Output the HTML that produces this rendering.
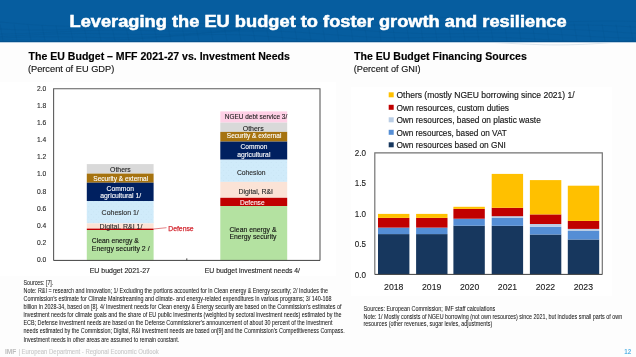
<!DOCTYPE html>
<html><head><meta charset="utf-8"><style>
html,body{margin:0;padding:0;background:#fff;}
svg{display:block;will-change:transform;font-family:"Liberation Sans",sans-serif;}
</style></head><body>
<svg width="636" height="357" viewBox="0 0 636 357">
<rect x="0.00" y="0.00" width="636.00" height="357.00" fill="#fdfdfd"/>
<rect x="0.00" y="82.00" width="336.00" height="194.00" fill="#ffffff"/>
<rect x="351.00" y="87.00" width="261.00" height="209.00" fill="#ffffff"/>
<rect x="0.00" y="0.00" width="636.00" height="42.00" fill="#065d9f"/>
<path d="M0,22.0 L8,22.7 L16,23.4 L24,24.1 L32,24.7 L40,25.2 L48,25.6 L56,25.9 L64,26.2 L72,26.3 L80,26.3 L88,26.2 L96,26.0 L104,25.8 L112,25.5 L120,25.1 L128,24.8 L136,24.4 L144,24.1 L152,23.9 L160,23.6 L168,23.5 L176,23.4 L184,23.3 L192,23.4 L200,23.5 L208,23.6 L216,23.8 L224,24.0 L232,24.2 L240,24.4 L248,24.6 L256,24.7 L264,24.7 L272,24.7 L280,24.6 L288,24.4 L296,24.1 L304,23.7 L312,23.2 L320,22.6 L328,22.0 L336,21.3 L344,20.6 L352,20.0 L360,19.3 L368,18.7 L376,18.1 L384,17.6 L392,17.2 L400,17.0 L408,16.8 L416,16.8 L424,16.8 L432,17.0 L440,17.3 L448,17.6 L456,18.0 L464,18.5 L472,19.0 L480,19.5 L488,20.0 L496,20.4 L504,20.8 L512,21.2 L520,21.5 L528,21.7 L536,21.8 L544,21.8 L552,21.8 L560,21.8 L568,21.6 L576,21.5 L584,21.4 L592,21.2 L600,21.1 L608,21.1 L616,21.1 L624,21.2 L632,21.3 L640,21.5 M0,29.0 L8,29.4 L16,29.8 L24,30.0 L32,30.1 L40,30.1 L48,30.1 L56,29.9 L64,29.6 L72,29.3 L80,29.0 L88,28.6 L96,28.2 L104,27.9 L112,27.5 L120,27.3 L128,27.0 L136,26.9 L144,26.8 L152,26.8 L160,26.8 L168,26.9 L176,27.1 L184,27.3 L192,27.4 L200,27.6 L208,27.8 L216,27.9 L224,28.0 L232,28.0 L240,27.9 L248,27.7 L256,27.4 L264,27.0 L272,26.6 L280,26.1 L288,25.5 L296,24.8 L304,24.2 L312,23.5 L320,22.8 L328,22.2 L336,21.6 L344,21.2 L352,20.8 L360,20.5 L368,20.3 L376,20.2 L384,20.3 L392,20.5 L400,20.7 L408,21.1 L416,21.5 L424,22.0 L432,22.5 L440,23.0 L448,23.6 L456,24.1 L464,24.5 L472,24.9 L480,25.2 L488,25.5 L496,25.7 L504,25.8 L512,25.8 L520,25.8 L528,25.7 L536,25.5 L544,25.4 L552,25.3 L560,25.2 L568,25.1 L576,25.1 L584,25.1 L592,25.2 L600,25.4 L608,25.6 L616,26.0 L624,26.4 L632,26.9 L640,27.4 M0,34.0 L8,33.9 L16,33.7 L24,33.5 L32,33.2 L40,32.8 L48,32.4 L56,32.0 L64,31.6 L72,31.2 L80,30.9 L88,30.6 L96,30.4 L104,30.2 L112,30.2 L120,30.2 L128,30.2 L136,30.3 L144,30.5 L152,30.7 L160,30.8 L168,31.0 L176,31.1 L184,31.2 L192,31.2 L200,31.1 L208,31.0 L216,30.7 L224,30.4 L232,30.0 L240,29.5 L248,28.9 L256,28.3 L264,27.7 L272,27.0 L280,26.4 L288,25.8 L296,25.2 L304,24.7 L312,24.3 L320,24.0 L328,23.8 L336,23.8 L344,23.8 L352,24.0 L360,24.2 L368,24.6 L376,25.0 L384,25.5 L392,26.1 L400,26.6 L408,27.2 L416,27.7 L424,28.2 L432,28.6 L440,29.0 L448,29.3 L456,29.5 L464,29.7 L472,29.7 L480,29.7 L488,29.7 L496,29.6 L504,29.4 L512,29.3 L520,29.2 L528,29.1 L536,29.0 L544,29.0 L552,29.1 L560,29.2 L568,29.4 L576,29.7 L584,30.1 L592,30.5 L600,31.0 L608,31.5 L616,32.1 L624,32.6 L632,33.1 L640,33.5 M0,36.6 L8,36.2 L16,35.7 L24,35.3 L32,34.9 L40,34.5 L48,34.1 L56,33.9 L64,33.7 L72,33.6 L80,33.5 L88,33.5 L96,33.6 L104,33.7 L112,33.9 L120,34.0 L128,34.2 L136,34.3 L144,34.4 L152,34.4 L160,34.4 L168,34.3 L176,34.1 L184,33.8 L192,33.4 L200,32.9 L208,32.4 L216,31.8 L224,31.2 L232,30.6 L240,30.0 L248,29.4 L256,28.8 L264,28.3 L272,27.9 L280,27.6 L288,27.4 L296,27.3 L304,27.3 L312,27.5 L320,27.8 L328,28.1 L336,28.5 L344,29.1 L352,29.6 L360,30.2 L368,30.8 L376,31.4 L384,31.9 L392,32.4 L400,32.8 L408,33.1 L416,33.4 L424,33.6 L432,33.7 L440,33.7 L448,33.7 L456,33.6 L464,33.5 L472,33.3 L480,33.2 L488,33.1 L496,33.0 L504,33.0 L512,33.0 L520,33.1 L528,33.2 L536,33.5 L544,33.8 L552,34.2 L560,34.6 L568,35.1 L576,35.6 L584,36.1 L592,36.6 L600,37.0 L608,37.4 L616,37.7 L624,37.9 L632,38.0 L640,38.0 M0,38.1 L8,37.7 L16,37.4 L24,37.1 L32,36.9 L40,36.8 L48,36.8 L56,36.8 L64,36.9 L72,37.0 L80,37.2 L88,37.3 L96,37.5 L104,37.6 L112,37.6 L120,37.6 L128,37.5 L136,37.4 L144,37.1 L152,36.8 L160,36.4 L168,35.9 L176,35.4 L184,34.8 L192,34.2 L200,33.6 L208,33.0 L216,32.4 L224,31.9 L232,31.5 L240,31.2 L248,31.0 L256,30.9 L264,30.9 L272,31.1 L280,31.3 L288,31.7 L296,32.1 L304,32.6 L312,33.2 L320,33.8 L328,34.4 L336,35.0 L344,35.6 L352,36.1 L360,36.6 L368,37.0 L376,37.3 L384,37.5 L392,37.6 L400,37.7 L408,37.7 L416,37.6 L424,37.5 L432,37.4 L440,37.2 L448,37.1 L456,37.0 L464,36.9 L472,36.9 L480,36.9 L488,37.0 L496,37.2 L504,37.5 L512,37.8 L520,38.2 L528,38.7 L536,39.1 L544,39.6 L552,40.0 L560,40.5 L568,40.8 L576,41.1 L584,41.4 L592,41.5 L600,41.5 L608,41.4 L616,41.2 L624,40.8 L632,40.4 L640,39.9 M0,40.2 L8,40.1 L16,40.1 L24,40.1 L32,40.2 L40,40.4 L48,40.5 L56,40.6 L64,40.8 L72,40.8 L80,40.8 L88,40.8 L96,40.7 L104,40.5 L112,40.2 L120,39.8 L128,39.4 L136,38.9 L144,38.3 L152,37.8 L160,37.2 L168,36.6 L176,36.1 L184,35.6 L192,35.2 L200,34.9 L208,34.6 L216,34.5 L224,34.5 L232,34.7 L240,34.9 L248,35.3 L256,35.7 L264,36.2 L272,36.8 L280,37.4 L288,38.0 L296,38.7 L304,39.3 L312,39.8 L320,40.4 L328,40.8 L336,41.1 L344,41.4 L352,41.6 L360,41.7 L368,41.7 L376,41.6 L384,41.5 L392,41.4 L400,41.2 L408,41.1 L416,40.9 L424,40.8 L432,40.8 L440,40.8 L448,40.8 L456,41.0 L464,41.2 L472,41.5 L480,41.8 L488,42.2 L496,42.6 L504,43.0 L512,43.5 L520,43.9 L528,44.2 L536,44.5 L544,44.8 L552,44.9 L560,44.9 L568,44.8 L576,44.6 L584,44.3 L592,43.9 L600,43.4 L608,42.8 L616,42.2 L624,41.5 L632,40.8 L640,40.1 M0 24.0 L3 41 M14 24.4 L17 41 M28 24.9 L31 41 M42 25.3 L45 41 M56 25.7 L59 41 M70 26.0 L73 41 M84 26.3 L87 41 M98 26.6 L101 41 M112 26.8 L115 41 M126 26.9 L129 41 M140 27.0 L143 41 M154 27.0 L157 41 M168 26.9 L171 41 M182 26.8 L185 41 M196 26.6 L199 41 M210 26.4 L213 41 M224 26.1 L227 41 M238 25.8 L241 41 M252 25.4 L255 41 M266 25.0 L269 41 M280 24.6 L283 41 M294 24.1 L297 41 M308 23.7 L311 41 M322 23.3 L325 41 M336 22.8 L339 41 M350 22.5 L353 41 M364 22.1 L367 41 M378 21.8 L381 41 M392 21.5 L395 41 M406 21.3 L409 41 M420 21.1 L423 41 M434 21.0 L437 41 M448 21.0 L451 41 M462 21.0 L465 41 M476 21.1 L479 41 M490 21.3 L493 41 M504 21.5 L507 41 M518 21.8 L521 41 M532 22.1 L535 41 M546 22.5 L549 41 M560 22.9 L563 41 M574 23.3 L577 41 M588 23.7 L591 41 M602 24.2 L605 41 M616 24.6 L619 41 M630 25.0 L633 41" fill="none" stroke="#02447d" stroke-opacity="0.22" stroke-width="0.6"/>
<rect x="0.00" y="41.00" width="636.00" height="1.00" fill="#04528e"/>
<rect x="0.00" y="42.00" width="636.00" height="1.00" fill="#b9d0e3"/>
<text x="69.50" y="26.70" font-size="16.2" fill="#fff" font-weight="bold" textLength="497.1" lengthAdjust="spacingAndGlyphs" stroke="#fff" stroke-width="0.5">Leveraging the EU budget to foster growth and resilience</text>
<text x="28.60" y="59.60" font-size="10.3" fill="#000" font-weight="bold" textLength="261.3" lengthAdjust="spacingAndGlyphs" stroke="#000" stroke-width="0.15">The EU Budget – MFF 2021-27 vs. Investment Needs</text>
<text x="27.90" y="72.00" font-size="8.8" fill="#111" textLength="86.4" lengthAdjust="spacingAndGlyphs" stroke="#111" stroke-width="0.12">(Percent of EU GDP)</text>
<text x="354.10" y="59.50" font-size="10.3" fill="#000" font-weight="bold" textLength="172.7" lengthAdjust="spacingAndGlyphs" stroke="#000" stroke-width="0.15">The EU Budget Financing Sources</text>
<text x="353.80" y="72.00" font-size="8.8" fill="#111" textLength="66.7" lengthAdjust="spacingAndGlyphs" stroke="#111" stroke-width="0.12">(Percent of GNI)</text>
<defs><pattern id="dots" width="5" height="5.2" patternUnits="userSpaceOnUse"><circle cx="1.2" cy="1.3" r="0.45" fill="#a9c3d6" fill-opacity="0.3"/><circle cx="3.7" cy="3.9" r="0.45" fill="#a9c3d6" fill-opacity="0.3"/></pattern></defs>
<rect x="86.80" y="164.10" width="66.80" height="9.50" fill="#d9d9d9"/>
<rect x="86.80" y="173.60" width="66.80" height="9.10" fill="#a6730f"/>
<rect x="86.80" y="182.70" width="66.80" height="18.30" fill="#002060"/>
<rect x="86.80" y="201.00" width="66.80" height="22.40" fill="#d0ebfa"/>
<rect x="86.80" y="223.40" width="66.80" height="5.20" fill="#fbe3d6"/>
<rect x="86.80" y="228.60" width="66.80" height="1.40" fill="#c00000"/>
<rect x="86.80" y="230.00" width="66.80" height="30.40" fill="#b4e2a1"/>
<rect x="220.30" y="111.40" width="66.90" height="11.20" fill="#ffd0e6"/>
<rect x="220.30" y="122.60" width="66.90" height="9.30" fill="#d9d9d9"/>
<rect x="220.30" y="131.90" width="66.90" height="9.70" fill="#a6730f"/>
<rect x="220.30" y="141.60" width="66.90" height="18.10" fill="#002060"/>
<rect x="220.30" y="159.70" width="66.90" height="22.20" fill="#d0ebfa"/>
<rect x="220.30" y="181.90" width="66.90" height="15.90" fill="#fbe3d6"/>
<rect x="220.30" y="197.80" width="66.90" height="8.20" fill="#c00000"/>
<rect x="220.30" y="206.00" width="66.90" height="54.40" fill="#b4e2a1"/>
<rect x="86.80" y="201.00" width="66.80" height="22.40" fill="url(#dots)"/>
<rect x="220.30" y="159.70" width="66.90" height="22.20" fill="url(#dots)"/>
<path d="M53.6 260.4 V88.7 H320.0 V260.4" fill="none" stroke="#5c5c5c" stroke-width="1.1"/>
<path d="M53.6 260.4 H320.0" fill="none" stroke="#404040" stroke-width="1"/>
<path d="M186.8 260.4 V258.4" fill="none" stroke="#404040" stroke-width="1"/>
<text x="46.20" y="90.60" font-size="6.7" fill="#2b2b2b" text-anchor="end" textLength="9.3" lengthAdjust="spacingAndGlyphs" stroke="#2b2b2b" stroke-width="0.12">2.0</text>
<text x="46.20" y="107.77" font-size="6.7" fill="#2b2b2b" text-anchor="end" textLength="9.3" lengthAdjust="spacingAndGlyphs" stroke="#2b2b2b" stroke-width="0.12">1.8</text>
<text x="46.20" y="124.94" font-size="6.7" fill="#2b2b2b" text-anchor="end" textLength="9.3" lengthAdjust="spacingAndGlyphs" stroke="#2b2b2b" stroke-width="0.12">1.6</text>
<text x="46.20" y="142.11" font-size="6.7" fill="#2b2b2b" text-anchor="end" textLength="9.3" lengthAdjust="spacingAndGlyphs" stroke="#2b2b2b" stroke-width="0.12">1.4</text>
<text x="46.20" y="159.28" font-size="6.7" fill="#2b2b2b" text-anchor="end" textLength="9.3" lengthAdjust="spacingAndGlyphs" stroke="#2b2b2b" stroke-width="0.12">1.2</text>
<text x="46.20" y="176.45" font-size="6.7" fill="#2b2b2b" text-anchor="end" textLength="9.3" lengthAdjust="spacingAndGlyphs" stroke="#2b2b2b" stroke-width="0.12">1.0</text>
<text x="46.20" y="193.62" font-size="6.7" fill="#2b2b2b" text-anchor="end" textLength="9.3" lengthAdjust="spacingAndGlyphs" stroke="#2b2b2b" stroke-width="0.12">0.8</text>
<text x="46.20" y="210.79" font-size="6.7" fill="#2b2b2b" text-anchor="end" textLength="9.3" lengthAdjust="spacingAndGlyphs" stroke="#2b2b2b" stroke-width="0.12">0.6</text>
<text x="46.20" y="227.96" font-size="6.7" fill="#2b2b2b" text-anchor="end" textLength="9.3" lengthAdjust="spacingAndGlyphs" stroke="#2b2b2b" stroke-width="0.12">0.4</text>
<text x="46.20" y="245.13" font-size="6.7" fill="#2b2b2b" text-anchor="end" textLength="9.3" lengthAdjust="spacingAndGlyphs" stroke="#2b2b2b" stroke-width="0.12">0.2</text>
<text x="46.20" y="262.30" font-size="6.7" fill="#2b2b2b" text-anchor="end" textLength="9.3" lengthAdjust="spacingAndGlyphs" stroke="#2b2b2b" stroke-width="0.12">0.0</text>
<text x="110.10" y="171.50" font-size="7.2" fill="#222" textLength="20.7" lengthAdjust="spacingAndGlyphs" stroke="#222" stroke-width="0.12">Others</text>
<text x="93.30" y="180.60" font-size="7.2" fill="#fff" textLength="54.9" lengthAdjust="spacingAndGlyphs" stroke="#fff" stroke-width="0.12">Security &amp; external</text>
<text x="106.60" y="191.00" font-size="7.2" fill="#fff" textLength="27.3" lengthAdjust="spacingAndGlyphs" stroke="#fff" stroke-width="0.12">Common</text>
<text x="100.30" y="198.00" font-size="7.2" fill="#fff" textLength="40.9" lengthAdjust="spacingAndGlyphs" stroke="#fff" stroke-width="0.12">agricultural 1/</text>
<text x="101.60" y="215.00" font-size="7.2" fill="#2b2b2b" textLength="37.2" lengthAdjust="spacingAndGlyphs" stroke="#2b2b2b" stroke-width="0.12">Cohesion 1/</text>
<text x="99.60" y="228.50" font-size="7.2" fill="#2b2b2b" textLength="42.8" lengthAdjust="spacingAndGlyphs" stroke="#2b2b2b" stroke-width="0.12">Digital, R&amp;I 1/</text>
<text x="91.80" y="243.20" font-size="7.2" fill="#111" textLength="47.0" lengthAdjust="spacingAndGlyphs" stroke="#111" stroke-width="0.12">Clean energy &amp;</text>
<text x="91.80" y="250.90" font-size="7.2" fill="#111" textLength="57.8" lengthAdjust="spacingAndGlyphs" stroke="#111" stroke-width="0.12">Energy security 2 /</text>
<text x="168.20" y="231.00" font-size="6.9" fill="#d42a33" textLength="25.5" lengthAdjust="spacingAndGlyphs" stroke="#d42a33" stroke-width="0.25">Defense</text>
<path d="M153.6 229.0 L166.5 227.7" stroke="#d84a50" stroke-width="0.7" fill="none"/>
<text x="224.80" y="118.80" font-size="7.2" fill="#222" textLength="62.4" lengthAdjust="spacingAndGlyphs" stroke="#222" stroke-width="0.12">NGEU debt service 3/</text>
<text x="242.70" y="130.60" font-size="7.2" fill="#222" textLength="21.0" lengthAdjust="spacingAndGlyphs" stroke="#222" stroke-width="0.12">Others</text>
<text x="226.80" y="137.80" font-size="7.2" fill="#fff" textLength="54.6" lengthAdjust="spacingAndGlyphs" stroke="#fff" stroke-width="0.12">Security &amp; external</text>
<text x="240.60" y="148.80" font-size="7.2" fill="#fff" textLength="26.8" lengthAdjust="spacingAndGlyphs" stroke="#fff" stroke-width="0.12">Common</text>
<text x="237.20" y="156.60" font-size="7.2" fill="#fff" textLength="33.2" lengthAdjust="spacingAndGlyphs" stroke="#fff" stroke-width="0.12">agricultural</text>
<text x="236.90" y="175.00" font-size="7.2" fill="#2b2b2b" textLength="28.5" lengthAdjust="spacingAndGlyphs" stroke="#2b2b2b" stroke-width="0.12">Cohesion</text>
<text x="238.50" y="194.10" font-size="7.2" fill="#2a2a2a" textLength="34.5" lengthAdjust="spacingAndGlyphs" stroke="#2a2a2a" stroke-width="0.12">Digital, R&amp;I</text>
<text x="239.90" y="204.80" font-size="7.2" fill="#fff" textLength="24.7" lengthAdjust="spacingAndGlyphs" stroke="#fff" stroke-width="0.12">Defense</text>
<text x="229.40" y="231.60" font-size="7.2" fill="#111" textLength="47.1" lengthAdjust="spacingAndGlyphs" stroke="#111" stroke-width="0.12">Clean energy &amp;</text>
<text x="229.40" y="238.80" font-size="7.2" fill="#111" textLength="47.1" lengthAdjust="spacingAndGlyphs" stroke="#111" stroke-width="0.12">Energy security</text>
<text x="89.70" y="272.60" font-size="7.1" fill="#222" textLength="60.3" lengthAdjust="spacingAndGlyphs" stroke="#222" stroke-width="0.12">EU budget 2021-27</text>
<text x="204.80" y="272.60" font-size="7.1" fill="#222" textLength="95.2" lengthAdjust="spacingAndGlyphs" stroke="#222" stroke-width="0.12">EU budget investment needs 4/</text>
<rect x="378.00" y="234.10" width="31.40" height="40.30" fill="#17375e"/>
<rect x="378.00" y="227.60" width="31.40" height="6.50" fill="#558ed5"/>
<rect x="378.00" y="217.90" width="31.40" height="9.70" fill="#c00000"/>
<rect x="378.00" y="213.90" width="31.40" height="4.00" fill="#ffc000"/>
<rect x="416.10" y="234.10" width="31.40" height="40.30" fill="#17375e"/>
<rect x="416.10" y="227.60" width="31.40" height="6.50" fill="#558ed5"/>
<rect x="416.10" y="217.90" width="31.40" height="9.70" fill="#c00000"/>
<rect x="416.10" y="213.90" width="31.40" height="4.00" fill="#ffc000"/>
<rect x="453.40" y="225.70" width="31.40" height="48.70" fill="#17375e"/>
<rect x="453.40" y="218.70" width="31.40" height="7.00" fill="#558ed5"/>
<rect x="453.40" y="208.90" width="31.40" height="9.80" fill="#c00000"/>
<rect x="453.40" y="206.80" width="31.40" height="2.10" fill="#ffc000"/>
<rect x="491.70" y="225.80" width="31.40" height="48.60" fill="#17375e"/>
<rect x="491.70" y="217.90" width="31.40" height="7.90" fill="#558ed5"/>
<rect x="491.70" y="216.20" width="31.40" height="1.70" fill="#b9cde5"/>
<rect x="491.70" y="207.80" width="31.40" height="8.40" fill="#c00000"/>
<rect x="491.70" y="173.90" width="31.40" height="33.90" fill="#ffc000"/>
<rect x="529.90" y="234.50" width="31.40" height="39.90" fill="#17375e"/>
<rect x="529.90" y="226.70" width="31.40" height="7.80" fill="#558ed5"/>
<rect x="529.90" y="224.00" width="31.40" height="2.70" fill="#b9cde5"/>
<rect x="529.90" y="214.40" width="31.40" height="9.60" fill="#c00000"/>
<rect x="529.90" y="180.10" width="31.40" height="34.30" fill="#ffc000"/>
<rect x="567.80" y="239.50" width="31.40" height="34.90" fill="#17375e"/>
<rect x="567.80" y="231.00" width="31.40" height="8.50" fill="#558ed5"/>
<rect x="567.80" y="228.90" width="31.40" height="2.10" fill="#b9cde5"/>
<rect x="567.80" y="220.90" width="31.40" height="8.00" fill="#c00000"/>
<rect x="567.80" y="185.70" width="31.40" height="35.20" fill="#ffc000"/>
<path d="M374.8 274.4 V152.9 H602.3 V274.4" fill="none" stroke="#737373" stroke-width="1.2"/>
<path d="M374.8 274.4 H602.3" fill="none" stroke="#404040" stroke-width="1"/>
<text x="366.00" y="156.00" font-size="9.3" fill="#1a1a1a" text-anchor="end" textLength="11.2" lengthAdjust="spacingAndGlyphs" stroke="#1a1a1a" stroke-width="0.12">2.0</text>
<text x="366.00" y="186.38" font-size="9.3" fill="#1a1a1a" text-anchor="end" textLength="11.2" lengthAdjust="spacingAndGlyphs" stroke="#1a1a1a" stroke-width="0.12">1.5</text>
<text x="366.00" y="216.75" font-size="9.3" fill="#1a1a1a" text-anchor="end" textLength="11.2" lengthAdjust="spacingAndGlyphs" stroke="#1a1a1a" stroke-width="0.12">1.0</text>
<text x="366.00" y="247.12" font-size="9.3" fill="#1a1a1a" text-anchor="end" textLength="11.2" lengthAdjust="spacingAndGlyphs" stroke="#1a1a1a" stroke-width="0.12">0.5</text>
<text x="366.00" y="277.50" font-size="9.3" fill="#1a1a1a" text-anchor="end" textLength="11.2" lengthAdjust="spacingAndGlyphs" stroke="#1a1a1a" stroke-width="0.12">0.0</text>
<text x="393.76" y="290.00" font-size="9.9" fill="#1a1a1a" text-anchor="middle" textLength="19.3" lengthAdjust="spacingAndGlyphs" stroke="#1a1a1a" stroke-width="0.12">2018</text>
<text x="431.68" y="290.00" font-size="9.9" fill="#1a1a1a" text-anchor="middle" textLength="19.3" lengthAdjust="spacingAndGlyphs" stroke="#1a1a1a" stroke-width="0.12">2019</text>
<text x="469.59" y="290.00" font-size="9.9" fill="#1a1a1a" text-anchor="middle" textLength="19.3" lengthAdjust="spacingAndGlyphs" stroke="#1a1a1a" stroke-width="0.12">2020</text>
<text x="507.51" y="290.00" font-size="9.9" fill="#1a1a1a" text-anchor="middle" textLength="19.3" lengthAdjust="spacingAndGlyphs" stroke="#1a1a1a" stroke-width="0.12">2021</text>
<text x="545.42" y="290.00" font-size="9.9" fill="#1a1a1a" text-anchor="middle" textLength="19.3" lengthAdjust="spacingAndGlyphs" stroke="#1a1a1a" stroke-width="0.12">2022</text>
<text x="583.34" y="290.00" font-size="9.9" fill="#1a1a1a" text-anchor="middle" textLength="19.3" lengthAdjust="spacingAndGlyphs" stroke="#1a1a1a" stroke-width="0.12">2023</text>
<rect x="388.70" y="92.30" width="5.00" height="5.00" fill="#ffc000"/>
<text x="396.40" y="98.30" font-size="9.4" fill="#151515" textLength="178.3" lengthAdjust="spacingAndGlyphs" stroke="#151515" stroke-width="0.15">Others (mostly NGEU borrowing since 2021) 1/</text>
<rect x="388.70" y="104.80" width="5.00" height="5.00" fill="#c00000"/>
<text x="396.40" y="110.80" font-size="9.4" fill="#151515" textLength="112.6" lengthAdjust="spacingAndGlyphs" stroke="#151515" stroke-width="0.15">Own resources, custom duties</text>
<rect x="388.70" y="117.30" width="5.00" height="5.00" fill="#b9cde5"/>
<text x="396.40" y="123.30" font-size="9.4" fill="#151515" textLength="144.4" lengthAdjust="spacingAndGlyphs" stroke="#151515" stroke-width="0.15">Own resources, based on plastic waste</text>
<rect x="388.70" y="129.80" width="5.00" height="5.00" fill="#558ed5"/>
<text x="396.40" y="135.80" font-size="9.4" fill="#151515" textLength="110.4" lengthAdjust="spacingAndGlyphs" stroke="#151515" stroke-width="0.15">Own resources, based on VAT</text>
<rect x="388.70" y="142.30" width="5.00" height="5.00" fill="#17375e"/>
<text x="396.40" y="148.30" font-size="9.4" fill="#151515" textLength="109.4" lengthAdjust="spacingAndGlyphs" stroke="#151515" stroke-width="0.15">Own resources based on GNI</text>
<text x="23.50" y="284.80" font-size="6.8" fill="#151515" textLength="29.8" lengthAdjust="spacingAndGlyphs" stroke="#151515" stroke-width="0.04">Sources: [7].</text>
<text x="23.50" y="292.90" font-size="6.8" fill="#151515" textLength="304.5" lengthAdjust="spacingAndGlyphs" stroke="#151515" stroke-width="0.04">Note: R&amp;I = research and innovation; 1/ Excluding the portions accounted for in Clean energy &amp; Energy security; 2/ Includes the</text>
<text x="23.50" y="301.00" font-size="6.8" fill="#151515" textLength="308.1" lengthAdjust="spacingAndGlyphs" stroke="#151515" stroke-width="0.04">Commission’s estimate for Climate Mainstreaming and climate- and energy-related expenditures in various programs; 3/ 140-168</text>
<text x="23.50" y="309.10" font-size="6.8" fill="#151515" textLength="317.9" lengthAdjust="spacingAndGlyphs" stroke="#151515" stroke-width="0.04">billion in 2028-34, based on [8]. 4/ Investment needs for Clean energy &amp; Energy security are based on the Commission’s estimates of</text>
<text x="23.50" y="317.20" font-size="6.8" fill="#151515" textLength="317.9" lengthAdjust="spacingAndGlyphs" stroke="#151515" stroke-width="0.04">investment needs for climate goals and the share of EU public investments (weighted by sectoral investment needs) estimated by the</text>
<text x="23.50" y="325.30" font-size="6.8" fill="#151515" textLength="308.9" lengthAdjust="spacingAndGlyphs" stroke="#151515" stroke-width="0.04">ECB; Defense investment needs are based on the Defense Commissioner’s announcement of about 30 percent of the investment</text>
<text x="23.50" y="333.40" font-size="6.8" fill="#151515" textLength="321.2" lengthAdjust="spacingAndGlyphs" stroke="#151515" stroke-width="0.04">needs estimated by the Commission; Digital, R&amp;I investment needs are based on[9] and the Commission’s Competitiveness Compass.</text>
<text x="23.50" y="341.50" font-size="6.8" fill="#151515" textLength="155.7" lengthAdjust="spacingAndGlyphs" stroke="#151515" stroke-width="0.04">Investment needs in other areas are assumed to remain constant.</text>
<text x="363.50" y="311.00" font-size="6.7" fill="#151515" textLength="131.8" lengthAdjust="spacingAndGlyphs" stroke="#151515" stroke-width="0.04">Sources: European Commission; IMF staff calculations</text>
<text x="363.50" y="318.60" font-size="6.7" fill="#151515" textLength="258.7" lengthAdjust="spacingAndGlyphs" stroke="#151515" stroke-width="0.04">Note: 1/ Mostly consists of NGEU borrowing (not own resources) since 2021, but includes small parts of own</text>
<text x="363.50" y="326.20" font-size="6.7" fill="#151515" textLength="128.7" lengthAdjust="spacingAndGlyphs" stroke="#151515" stroke-width="0.04">resources (other revenues, sugar levies, adjustments)</text>
<text x="5.00" y="353.70" font-size="6.6" fill="#bdbdbd" font-weight="bold" textLength="11.4" lengthAdjust="spacingAndGlyphs">IMF</text>
<text x="18.40" y="353.70" font-size="6.8" fill="#cacaca" textLength="140.4" lengthAdjust="spacingAndGlyphs" stroke="#cacaca" stroke-width="0.12">| European Department - Regional Economic Outlook</text>
<text x="624.20" y="353.80" font-size="7" fill="#5ab4e6" font-weight="bold" textLength="6.9" lengthAdjust="spacingAndGlyphs">12</text>
</svg>
</body></html>
